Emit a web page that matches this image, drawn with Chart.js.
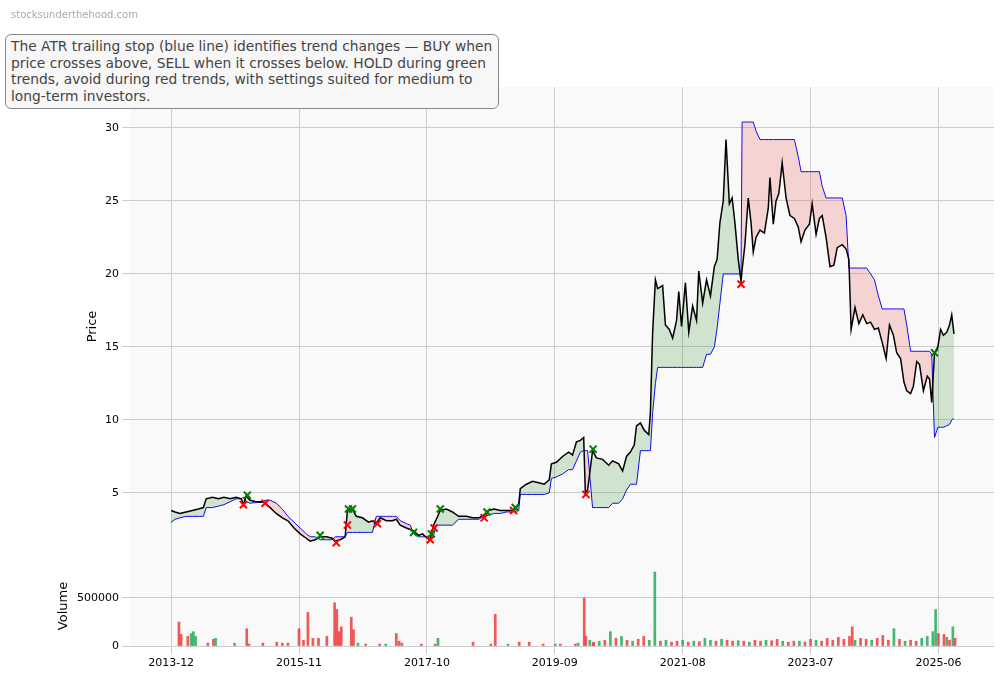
<!DOCTYPE html>
<html><head><meta charset="utf-8">
<script src="https://cdn.jsdelivr.net/npm/chart.js@4/dist/chart.umd.min.js"></script>
<style>
html,body{margin:0;padding:0;background:#fff;}
#wrap{position:relative;width:1004px;height:678px;}
#wm{position:absolute;left:11px;top:9px;font:10px "DejaVu Sans",sans-serif;color:#aaa;}
#ttl{position:absolute;left:5px;top:34px;width:482px;padding:3px 5px 4px 5px;border:1px solid #888;border-radius:6px;background:#f7f7f7;font:13.8px "DejaVu Sans",sans-serif;line-height:16.5px;color:#444;white-space:nowrap;}
</style></head>
<body><div id="wrap"><canvas id="c" width="1004" height="678"></canvas>
<div id="wm">stocksunderthehood.com</div>
<div id="ttl">The ATR trailing stop (blue line) identifies trend changes — BUY when<br>price crosses above, SELL when it crosses below. HOLD during green<br>trends, avoid during red trends, with settings suited for medium to<br>long-term investors.</div>
</div>
<script>
// months since 2013-12
const months=[0,0.7,1.6,2.7,3.8,4.9,5.8,6.3,7.4,8.5,9.5,10.6,11.7,12.6,13.0,13.5,14.2,15.3,16.4,16.9,17.8,18.9,20.0,21.0,22.1,23.2,24.3,25.0,25.9,26.8,27.9,29.0,29.5,30.4,31.3,31.7,32.6,33.3,34.4,35.5,36.2,36.9,37.6,38.7,39.8,40.5,41.2,42.3,43.0,43.6,44.5,45.2,46.1,46.6,47.2,47.7,48.4,49.5,50.6,51.7,53.1,54.2,55.3,56.3,57.1,58.1,59.2,60.3,61.4,62.5,62.8,63.9,65.0,66.1,67.1,68.0,68.4,69.3,70.4,71.5,72.2,72.9,73.6,74.2,74.5,74.9,75.8,76.5,77.6,78.7,79.4,80.5,81.2,81.9,82.6,83.3,83.7,84.4,85.1,85.9,86.2,86.6,87.1,87.5,88.4,88.9,89.6,90.2,90.9,91.3,91.8,92.5,93.1,93.8,94.5,94.9,95.6,96.3,97.0,97.7,98.2,98.7,99.3,99.8,100.4,100.9,101.4,102.0,102.5,102.7,103.2,103.8,104.3,104.7,105.2,105.9,106.7,107.4,107.7,108.3,108.8,109.3,109.9,110.6,111.3,112.1,112.8,113.3,114.0,114.8,115.3,116.0,116.6,117.1,117.8,118.5,119.2,119.8,120.7,121.4,121.9,122.3,123.0,123.7,124.4,125.1,125.8,126.5,127.2,127.9,128.6,129.2,129.9,130.5,131.2,131.8,132.3,133.0,133.5,134.1,134.6,135.3,136.0,136.4,136.8,137.3,137.9,138.4,138.9,139.5,140.0,140.4,140.8];
const price=[3.8,3.7,3.6,3.7,3.8,3.9,4.0,4.6,4.7,4.6,4.7,4.6,4.7,4.6,4.2,4.8,4.5,4.4,4.4,4.3,4.0,3.6,3.3,3.1,2.6,2.2,1.9,1.7,1.8,2.0,2.0,1.9,1.7,1.8,2.0,3.8,3.9,3.4,3.3,3.0,3.1,2.9,3.3,3.1,3.1,3.2,2.8,2.6,2.5,2.4,2.1,2.2,1.9,1.8,2.8,3.2,3.8,3.9,3.7,3.4,3.4,3.3,3.3,3.5,3.8,3.9,3.8,3.8,3.8,4.2,5.3,5.6,5.8,5.7,5.6,5.9,7.0,7.1,7.5,7.8,7.6,8.5,8.6,8.8,5.0,5.2,7.9,7.4,7.3,6.9,7.2,7.0,6.5,7.5,7.8,8.3,9.6,9.8,9.3,9.0,10.5,16.0,19.6,19.0,19.2,16.5,16.2,15.6,16.8,18.8,16.4,19.4,16.0,17.8,16.8,20.2,18.0,19.6,18.5,20.5,21.0,23.5,25.0,29.2,24.8,25.2,23.5,21.0,19.5,20.3,22.0,25.2,23.5,21.5,22.5,23.0,22.8,24.5,26.6,23.4,25.0,25.5,27.6,25.2,24.0,23.8,23.2,22.2,23.0,23.4,24.8,22.7,23.8,24.0,22.5,20.5,20.6,21.8,22.0,21.7,21.0,16.2,17.7,16.6,17.2,16.6,16.7,16.2,16.3,15.3,14.2,16.5,15.8,14.6,14.2,12.6,12.0,11.8,12.3,14.0,13.8,12.0,13.0,12.8,11.2,14.6,15.0,16.2,15.8,16.0,16.5,17.2,15.9];
const stop=[3.0,3.2,3.3,3.4,3.4,3.4,3.4,4.0,4.0,4.1,4.2,4.4,4.6,4.6,4.7,4.4,4.3,4.35,4.35,4.5,4.5,4.3,3.9,3.4,3.0,2.6,2.2,2.0,2.0,1.8,1.8,1.8,2.0,2.0,2.0,2.3,2.3,2.3,2.3,2.3,2.3,3.4,3.4,3.4,3.4,3.4,3.1,2.9,2.8,2.2,2.0,2.0,2.0,2.1,2.1,2.8,2.8,2.8,2.8,3.2,3.2,3.2,3.2,3.4,3.5,3.6,3.6,3.7,3.7,3.8,4.9,4.9,4.9,4.9,4.9,5.0,6.0,6.1,6.3,6.6,6.6,7.2,7.8,7.9,7.9,7.9,4.0,4.0,4.0,4.0,4.3,4.3,4.6,5.2,5.6,5.6,5.6,7.9,7.9,7.9,7.9,10.5,12.5,13.6,13.6,13.6,13.6,13.6,13.6,13.6,13.6,13.6,13.6,13.6,13.6,13.6,13.6,14.5,14.5,15.0,16.3,18.0,20.0,20.0,20.0,20.0,20.0,20.0,20.0,30.4,30.4,30.4,30.4,30.4,29.8,29.2,29.2,29.2,29.2,29.2,29.2,29.2,29.2,29.2,29.2,29.2,28.0,27.0,27.0,27.0,27.0,27.0,27.0,26.0,25.2,25.2,25.2,25.2,25.2,24.0,20.4,20.4,20.4,20.4,20.4,20.4,20.0,19.6,18.5,17.6,17.6,17.6,17.6,17.6,17.6,17.6,16.5,14.7,14.7,14.7,14.7,14.7,14.7,14.7,14.5,8.8,9.5,9.5,9.5,9.6,9.7,10.0,10.1];
const buyMonths=[13.7,26.8,31.9,32.6,43.6,46.8,48.4,56.8,61.9,75.9,137.3];
const buyPrices=[4.85,2.1,3.9,3.9,2.3,2.2,3.9,3.7,4.0,8.0,14.6];
const sellMonths=[13.0,16.9,29.7,31.7,37.1,46.6,47.3,56.3,61.6,74.6,102.5];
const sellPrices=[4.2,4.3,1.6,2.8,2.9,1.8,2.6,3.3,3.8,4.9,19.3];
const volMonths=[1.4,1.8,3.0,3.6,4.0,4.4,6.6,7.6,8.0,11.4,13.6,14.0,16.5,19.0,20.0,21.0,23.0,23.8,24.6,25.5,26.5,28.0,29.4,29.8,30.2,30.6,32.4,32.8,33.6,35.0,37.5,38.6,40.5,41.0,41.5,45.0,47.5,48.0,54.3,57.5,58.3,60.6,62.6,64.4,66.9,69.1,70.0,72.7,73.2,74.3,74.6,75.3,75.9,
76,77,78,79,80,81,82,83,84,85,86,87,88,89,90,91,92,93,94,95,96,97,98,99,100,101,102,103,104,105,106,107,108,109,110,111,112,113,114,115,116,117,118,119,120,121,122,122.5,123,124,125,126,127,128,129,130,131,132,133,134,135,136,137,137.5,138,139,139.5,140,140.6,141];
const volumes=[250000,120000,100000,130000,150000,100000,30000,70000,80000,30000,180000,20000,30000,40000,30000,30000,180000,60000,350000,80000,80000,100000,450000,380000,150000,200000,300000,170000,30000,20000,20000,20000,130000,50000,30000,20000,20000,80000,40000,20000,330000,20000,40000,40000,20000,20000,20000,20000,30000,500000,100000,60000,30000,
40000,50000,60000,150000,80000,100000,60000,50000,70000,100000,60000,770000,50000,60000,40000,50000,60000,40000,50000,45000,80000,60000,50000,70000,60000,50000,55000,50000,40000,60000,50000,60000,55000,70000,50000,40000,50000,50000,40000,70000,60000,50000,80000,60000,90000,70000,100000,200000,60000,80000,70000,60000,80000,110000,60000,180000,70000,50000,60000,50000,80000,100000,150000,380000,130000,120000,90000,60000,200000,80000];
const volUp=[0,0,0,1,1,1,0,0,1,1,0,0,0,0,0,0,0,0,0,0,0,0,0,0,0,0,0,0,1,0,0,1,0,0,0,0,0,1,0,0,0,1,0,0,0,1,0,0,1,0,0,1,0,
0,1,0,1,0,1,0,1,0,0,1,1,0,1,0,0,1,0,1,0,1,1,0,1,0,0,1,0,1,0,0,1,0,0,1,0,0,1,0,0,1,0,0,0,0,0,0,0,1,0,0,1,0,0,0,1,0,1,0,0,1,1,1,1,0,0,1,0,1,0];
const xTickMonths=[0,23,46,69,92,115,138];
const xTickLabels=['2013-12','2015-11','2017-10','2019-09','2021-08','2023-07','2025-06'];
const priceTicks=[5,10,15,20,25,30];
const volTicks=[0,500000];

const pts=(xs,ys)=>xs.map((x,i)=>({x,y:ys[i]}));
const bgPlugin={id:'bg',beforeDraw(ch){const a=ch.chartArea,c=ch.ctx;c.save();c.fillStyle='#f9f9f9';c.fillRect(a.left,a.top,a.right-a.left,a.bottom-a.top);c.restore();}};
const F='"DejaVu Sans", sans-serif';
new Chart(document.getElementById('c'),{
  plugins:[bgPlugin],
  data:{datasets:[
    {type:'line',label:'stop',data:pts(months,stop),borderColor:'#0000ff',borderWidth:1,pointRadius:0,fill:false,yAxisID:'y',order:3},
    {type:'line',label:'price',data:pts(months,price),borderColor:'#000',borderWidth:1.5,pointRadius:0,fill:{target:0,above:'rgba(60,150,60,0.22)',below:'rgba(240,100,100,0.25)'},yAxisID:'y',order:2},
    {type:'scatter',data:pts(buyMonths,buyPrices),pointStyle:'crossRot',radius:5,borderWidth:2,borderColor:'#008000',yAxisID:'y',order:1},
    {type:'scatter',data:pts(sellMonths,sellPrices),pointStyle:'crossRot',radius:5,borderWidth:2,borderColor:'#ff0000',yAxisID:'y',order:1},
    {type:'bar',data:pts(volMonths,volumes),backgroundColor:volUp.map(u=>u?'rgba(40,170,90,0.85)':'rgba(240,60,60,0.85)'),barThickness:2,yAxisID:'yv',order:4}
  ]},
  options:{responsive:false,animation:false,
    layout:{padding:{left:0,right:10,top:87,bottom:0}},
    plugins:{legend:{display:false},tooltip:{enabled:false}},
    scales:{
      x:{type:'linear',offset:false,min:-7.4,max:148,grid:{color:'#cccccc',offset:false},border:{display:false},
        afterBuildTicks(s){s.ticks=xTickMonths.map(v=>({value:v}));},
        afterFit(s){s.height=32;},
        ticks:{font:{family:F,size:11},color:'#000',maxRotation:0,callback:(v)=>xTickLabels[xTickMonths.indexOf(v)]||''}},
      yv:{type:'linear',position:'left',stack:'s',stackWeight:80,offset:false,min:0,max:833000,grid:{color:'#cccccc'},border:{display:false},
        afterBuildTicks(s){s.ticks=volTicks.map(v=>({value:v}));},
        afterFit(s){s.width=130;},
        title:{display:true,text:'Volume',font:{family:F,size:13},color:'#000',padding:{top:56,bottom:0}},
        ticks:{font:{family:F,size:11},color:'#000',callback:v=>String(v)}},
      y:{type:'linear',position:'left',stack:'s',stackWeight:479,min:0,max:32.8,grid:{color:'#cccccc'},border:{display:false},
        afterBuildTicks(s){s.ticks=priceTicks.map(v=>({value:v}));},
        afterFit(s){s.width=130;},
        title:{display:true,text:'Price',font:{family:F,size:13},color:'#000',padding:{top:85,bottom:0}},
        ticks:{font:{family:F,size:11},color:'#000'}}
    }}
});
</script></body></html>
